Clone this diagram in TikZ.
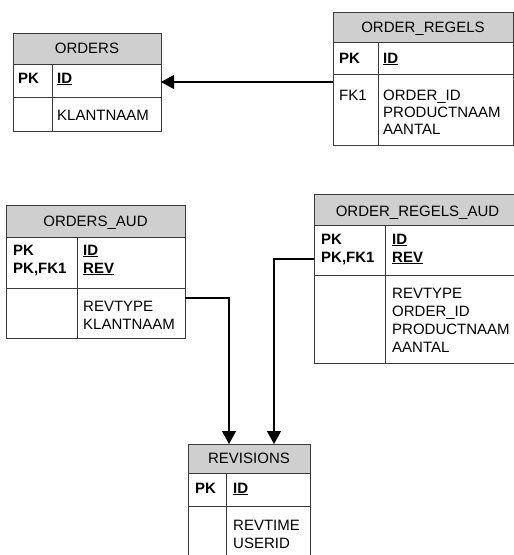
\documentclass[tikz,border=0pt]{standalone}
\usepackage{fontspec}
\setmainfont{Liberation Sans}
\usetikzlibrary{arrows.meta}
\definecolor{bordercol}{HTML}{3A3A3A}
\definecolor{hdrgray}{HTML}{CFCFCF}
\tikzset{
  tbl/.style={draw=bordercol, line width=0.9pt, fill=white, inner sep=0pt, outer sep=0pt},
  hdr/.style={draw=bordercol, line width=0.9pt, fill=hdrgray, inner sep=0pt, outer sep=0pt},
  sep/.style={draw=bordercol, line width=0.9pt},
  txt/.style={anchor=base west, inner sep=0pt, font=\fontsize{15}{17}\selectfont},
  keytxt/.style={txt, font=\fontsize{15}{17}\selectfont\bfseries},
  ttl/.style={anchor=base, inner sep=0pt, font=\fontsize{15}{17}\selectfont},
  conn/.style={line width=1.4pt, black, -{Triangle[length=13pt,width=14pt]}}
}
\newcommand{\pkcol}[1]{\textbf{\underline{#1}}}
\begin{document}
\begin{tikzpicture}[x=1pt,y=-1pt]
\useasboundingbox (0,0) rectangle (514,555);
\clip (0,0) rectangle (514,555);

% ---------- ORDERS ----------
\node[tbl, anchor=north west, minimum width=148pt, minimum height=98pt] (orders) at (13,33) {};
\node[hdr, anchor=north west, minimum width=148pt, minimum height=31pt] (ordersh) at (13,33) {};
\draw[sep] (13,97) -- (161,97);
\draw[sep] (52,64) -- (52,131);
\node[ttl] (ordersT) at (87,53) {ORDERS};
\node[keytxt] (ordersK1) at (18,83) {PK};
\node[txt] (ordersC1) at (57,83) {\pkcol{ID}};
\node[txt] (ordersC2) at (57,120) {KLANTNAAM};

% ---------- ORDER_REGELS ----------
\node[tbl, anchor=north west, minimum width=180pt, minimum height=133pt] (regels) at (333,12) {};
\node[hdr, anchor=north west, minimum width=180pt, minimum height=30pt] (regelsh) at (333,12) {};
\draw[sep] (333,74) -- (513,74);
\draw[sep] (378,42) -- (378,145);
\node[ttl] (regelsT) at (423,32) {ORDER\_REGELS};
\node[keytxt] (regelsK1) at (339,63) {PK};
\node[txt] (regelsC1) at (383,63) {\pkcol{ID}};
\node[txt] (regelsK2) at (339,100) {FK1};
\node[txt] (regelsC2) at (383,100) {ORDER\_ID};
\node[txt] (regelsC3) at (383,117) {PRODUCTNAAM};
\node[txt] (regelsC4) at (383,134) {AANTAL};

% ---------- ORDERS_AUD ----------
\node[tbl, anchor=north west, minimum width=179pt, minimum height=133pt] (oaud) at (6,205) {};
\node[hdr, anchor=north west, minimum width=179pt, minimum height=32pt] (oaudh) at (6,205) {};
\draw[sep] (6,288) -- (185,288);
\draw[sep] (77,237) -- (77,338);
\node[ttl] (oaudT) at (95.5,226) {ORDERS\_AUD};
\node[keytxt] (oaudK1) at (13,255) {PK};
\node[keytxt] (oaudK2) at (13,273) {PK,FK1};
\node[txt] (oaudC1) at (83,255) {\pkcol{ID}};
\node[txt] (oaudC2) at (83,273) {\pkcol{REV}};
\node[txt] (oaudC3) at (83,311) {REVTYPE};
\node[txt] (oaudC4) at (83,329) {KLANTNAAM};

% ---------- ORDER_REGELS_AUD ----------
\node[tbl, anchor=north west, minimum width=207pt, minimum height=169pt] (raud) at (314,194) {};
\node[hdr, anchor=north west, minimum width=207pt, minimum height=31pt] (raudh) at (314,194) {};
\draw[sep] (314,275) -- (521,275);
\draw[sep] (385,225) -- (385,363);
\node[ttl] (raudT) at (417.5,216) {ORDER\_REGELS\_AUD};
\node[keytxt] (raudK1) at (321,244) {PK};
\node[keytxt] (raudK2) at (321,262) {PK,FK1};
\node[txt] (raudC1) at (392,244) {\pkcol{ID}};
\node[txt] (raudC2) at (392,262) {\pkcol{REV}};
\node[txt] (raudC3) at (392,298) {REVTYPE};
\node[txt] (raudC4) at (392,316) {ORDER\_ID};
\node[txt] (raudC5) at (392,334) {PRODUCTNAAM};
\node[txt] (raudC6) at (392,352) {AANTAL};

% ---------- REVISIONS ----------
\node[tbl, anchor=north west, minimum width=122pt, minimum height=126pt] (revs) at (188,444) {};
\node[hdr, anchor=north west, minimum width=122pt, minimum height=29pt] (revsh) at (188,444) {};
\draw[sep] (188,506) -- (310,506);
\draw[sep] (226,473) -- (226,570);
\node[ttl] (revsT) at (249,463) {REVISIONS};
\node[keytxt] (revsK1) at (195,493) {PK};
\node[txt] (revsC1) at (233,493) {\pkcol{ID}};
\node[txt] (revsC2) at (233,530) {REVTIME};
\node[txt] (revsC3) at (233,548) {USERID};

% ---------- connectors ----------
\coordinate (fkA) at (regels.west |- 0,82);
\draw[conn] (fkA) -- (orders.east |- fkA);

\coordinate (oaudOut) at (oaud.east |- 0,298);
\coordinate (revIn1) at (229,0 |- revsh.north);
\draw[conn] (oaudOut) -| (revIn1);

\coordinate (raudOut) at (raud.west |- 0,259);
\coordinate (revIn2) at (274,0 |- revsh.north);
\draw[conn] (raudOut) -| (revIn2);
\end{tikzpicture}
\end{document}
